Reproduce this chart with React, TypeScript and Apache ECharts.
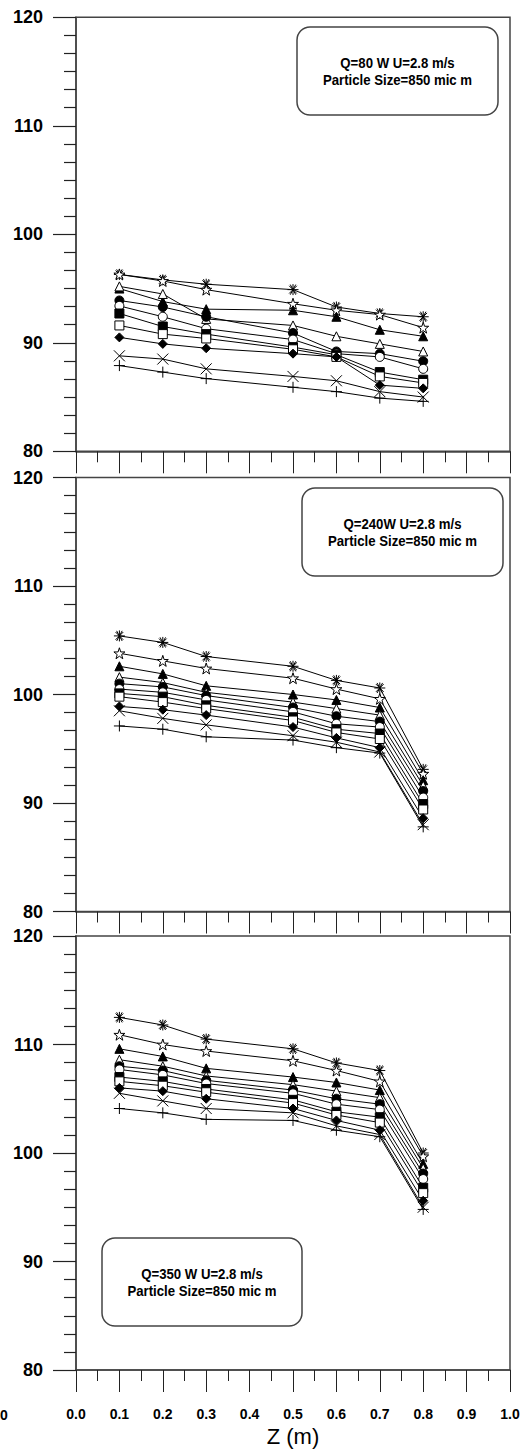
import React, { useEffect, useRef } from "react";
import * as echarts from "echarts";

// Axial positions of the measurement stations (m)
const zPositions = [0.1, 0.2, 0.3, 0.5, 0.6, 0.7, 0.8];
const yMin = 80;
const yMax = 120;
const yStep = 10;

// Q = 80 W
const q80Asterisk = [96.3, 95.8, 95.4, 94.9, 93.3, 92.7, 92.4];
const q80Star = [96.3, 95.7, 94.9, 93.6, 93.0, 92.6, 91.4];
const q80TriFilled = [95.0, 93.8, 93.1, 93.0, 92.4, 91.2, 90.6];
const q80TriOpen = [95.2, 94.5, 92.2, 91.6, 90.6, 89.9, 89.2];
const q80DotFilled = [93.9, 93.3, 92.4, 90.9, 89.2, 89.0, 88.3];
const q80DotOpen = [93.4, 92.4, 91.3, 90.3, 89.0, 88.7, 87.6];
const q80SqFilled = [92.7, 91.5, 90.8, 89.6, 88.9, 87.3, 86.6];
const q80SqOpen = [91.6, 90.8, 90.4, 89.4, 88.7, 86.9, 86.3];
const q80Diamond = [90.5, 89.9, 89.5, 89.0, 88.7, 86.1, 85.8];
const q80Cross = [88.8, 88.5, 87.6, 86.9, 86.5, 85.5, 85.0];
const q80Plus = [87.9, 87.3, 86.7, 85.9, 85.5, 84.9, 84.6];

// Q = 240 W
const q240Asterisk = [105.4, 104.8, 103.5, 102.6, 101.3, 100.6, 93.1];
const q240Star = [103.8, 103.1, 102.4, 101.5, 100.5, 99.6, 92.7];
const q240TriFilled = [102.6, 101.9, 100.8, 100.0, 99.5, 98.8, 92.1];
const q240TriOpen = [101.6, 101.1, 100.2, 99.3, 98.7, 98.1, 91.6];
const q240DotFilled = [101.0, 100.7, 99.9, 98.8, 98.0, 97.5, 91.1];
const q240DotOpen = [100.5, 100.2, 99.5, 98.4, 97.3, 97.0, 90.5];
const q240SqFilled = [100.1, 99.8, 99.0, 97.9, 96.8, 96.4, 89.9];
const q240SqOpen = [99.8, 99.3, 98.7, 97.6, 96.5, 95.9, 89.4];
const q240Diamond = [98.9, 98.6, 98.1, 97.0, 96.0, 95.1, 88.6];
const q240Cross = [98.5, 97.8, 97.2, 96.2, 95.6, 94.7, 88.0];
const q240Plus = [97.1, 96.8, 96.1, 95.8, 95.1, 94.6, 87.8];

// Q = 350 W
const q350Asterisk = [112.5, 111.8, 110.5, 109.6, 108.3, 107.6, 100.0];
const q350Star = [110.9, 110.0, 109.4, 108.5, 107.6, 106.6, 99.7];
const q350TriFilled = [109.6, 108.9, 107.8, 107.0, 106.5, 105.8, 99.0];
const q350TriOpen = [108.6, 108.0, 107.1, 106.3, 105.7, 105.1, 98.6];
const q350DotFilled = [108.0, 107.6, 106.7, 105.8, 105.0, 104.5, 98.1];
const q350DotOpen = [107.7, 107.2, 106.4, 105.5, 104.5, 104.0, 97.6];
const q350SqFilled = [107.0, 106.6, 105.9, 104.9, 103.8, 103.3, 96.8];
const q350SqOpen = [106.6, 106.2, 105.6, 104.6, 103.5, 102.8, 96.3];
const q350Diamond = [106.0, 105.7, 105.0, 104.1, 103.0, 102.1, 95.6];
const q350Cross = [105.5, 104.8, 104.1, 103.7, 102.5, 101.7, 95.0];
const q350Plus = [104.1, 103.7, 103.1, 103.0, 102.1, 101.5, 94.8];

const panelSeries = [
  [q80Asterisk, q80Star, q80TriFilled, q80TriOpen, q80DotFilled, q80DotOpen, q80SqFilled, q80SqOpen, q80Diamond, q80Cross, q80Plus],
  [q240Asterisk, q240Star, q240TriFilled, q240TriOpen, q240DotFilled, q240DotOpen, q240SqFilled, q240SqOpen, q240Diamond, q240Cross, q240Plus],
  [q350Asterisk, q350Star, q350TriFilled, q350TriOpen, q350DotFilled, q350DotOpen, q350SqFilled, q350SqOpen, q350Diamond, q350Cross, q350Plus],
];

const panelTitles = ["Q=80 W U=2.8 m/s", "Q=240W U=2.8 m/s", "Q=350 W U=2.8 m/s"];
const particleLine = "Particle Size=850 mic m";
const xAxisTitle = "Z (m)";

const FONT = "Liberation Sans, Arial, Helvetica, sans-serif";
const INK = "#000";
const FRAME = "#444";

const ASTERISK = "path://M0,5L10,5M5,0L5,10M1.5,1.5L8.5,8.5M1.5,8.5L8.5,1.5M2.5,0.4L7.5,9.6M7.5,0.4L2.5,9.6";
const STAR = "path://M5,0L6.2,3.6L10,3.6L7,5.9L8.1,9.5L5,7.3L1.9,9.5L3,5.9L0,3.6L3.8,3.6Z";
const CROSS = "path://M0,0L10,10M0,10L10,0";
const PLUS = "path://M5,0L5,10M0,5L10,5";

// Marker style of each curve, in the same order as the arrays above
const markers = [
  { symbol: ASTERISK, size: 11, fill: INK, bw: 1 },
  { symbol: STAR, size: 11, fill: "#fff", bw: 1 },
  { symbol: "triangle", size: 9, fill: INK, bw: 1 },
  { symbol: "triangle", size: 9, fill: "#fff", bw: 1 },
  { symbol: "circle", size: 9, fill: INK, bw: 1 },
  { symbol: "circle", size: 9, fill: "#fff", bw: 1 },
  { symbol: "rect", size: 9, fill: INK, bw: 1 },
  { symbol: "rect", size: 9, fill: "#fff", bw: 1 },
  { symbol: "diamond", size: 9, fill: INK, bw: 1 },
  { symbol: CROSS, size: 11, fill: INK, bw: 1 },
  { symbol: PLUS, size: 11, fill: INK, bw: 1 },
];

// Plot frames (px)
const plotLeft = 76;
const plotWidth = 434;
const plotHeight = 434;
const panelTops = [17.3, 477.5, 936];

// Annotation boxes
const boxes = [
  { x: 297, y: 27, w: 201, h: 88 },
  { x: 302, y: 488, w: 201, h: 88 },
  { x: 102, y: 1238, w: 200, h: 88 },
];

export default function App() {
  const ref = useRef<HTMLDivElement>(null);

  useEffect(() => {
    if (!ref.current) return;
    const chart = echarts.init(ref.current, undefined, { renderer: "svg" });

    const grid = panelTops.map((top) => ({
      left: plotLeft,
      top,
      width: plotWidth,
      height: plotHeight,
      show: true,
      borderColor: FRAME,
      borderWidth: 1.5,
      backgroundColor: "transparent",
    }));

    const xAxis = panelTops.map((_, i) => ({
      type: "value",
      gridIndex: i,
      min: 0,
      max: 1,
      interval: 0.1,
      axisLine: { show: true, onZero: false, lineStyle: { color: FRAME, width: 1.5 } },
      axisTick: { show: true, length: 22, lineStyle: { color: "#222", width: 1 } },
      minorTick: { show: true, splitNumber: 2, length: 11, lineStyle: { color: "#222", width: 1 } },
      splitLine: { show: false },
      axisLabel: {
        show: i === panelTops.length - 1,
        margin: 37,
        fontSize: 14,
        fontWeight: "bold",
        fontFamily: FONT,
        color: INK,
        formatter: (v: number) => v.toFixed(1),
      },
    }));

    const yAxis = panelTops.map((_, i) => ({
      type: "value",
      gridIndex: i,
      min: yMin,
      max: yMax,
      interval: yStep,
      axisLine: { show: true, onZero: false, lineStyle: { color: FRAME, width: 1.5 } },
      axisTick: { show: true, length: 23, lineStyle: { color: "#222", width: 1.2 } },
      minorTick: { show: true, splitNumber: 6, length: 12, lineStyle: { color: "#222", width: 1.2 } },
      splitLine: { show: false },
      axisLabel: {
        show: true,
        margin: 33,
        fontSize: 18,
        fontWeight: "bold",
        fontFamily: FONT,
        color: INK,
      },
    }));

    const series: any[] = [];
    panelSeries.forEach((curves, p) => {
      curves.forEach((vals, k) => {
        const m = markers[k];
        series.push({
          type: "line",
          xAxisIndex: p,
          yAxisIndex: p,
          data: zPositions.map((z, j) => [z, vals[j]]),
          symbol: m.symbol,
          symbolSize: m.size,
          showSymbol: true,
          silent: true,
          lineStyle: { color: INK, width: 1 },
          itemStyle: { color: m.fill, borderColor: INK, borderWidth: m.bw, opacity: 1 },
          emphasis: { disabled: true },
        });
      });
    });

    const graphic: any[] = [];
    boxes.forEach((b, i) => {
      graphic.push({
        type: "rect",
        shape: { x: b.x, y: b.y, width: b.w, height: b.h, r: 13 },
        style: { fill: "#fff", stroke: FRAME, lineWidth: 1.5 },
        z: 100,
      });
      const cx = b.x + b.w / 2;
      const cy = b.y + b.h / 2;
      [panelTitles[i], particleLine].forEach((t, k) => {
        graphic.push({
          type: "text",
          x: cx,
          y: cy + (k === 0 ? -8.5 : 9),
          scaleX: 0.88,
          z: 101,
          style: {
            text: t,
            fill: INK,
            font: `bold 15px ${FONT}`,
            textAlign: "center",
            textVerticalAlign: "middle",
          },
        });
      });
    });

    graphic.push({
      type: "text",
      x: plotLeft + plotWidth / 2,
      y: 1436,
      style: {
        text: xAxisTitle,
        fill: INK,
        font: `22px ${FONT}`,
        textAlign: "center",
        textVerticalAlign: "middle",
      },
    });
    graphic.push({
      type: "text",
      x: 0,
      y: 1415,
      style: {
        text: "0",
        fill: INK,
        font: `bold 14px ${FONT}`,
        textAlign: "left",
        textVerticalAlign: "middle",
      },
    });

    chart.setOption({
      animation: false,
      backgroundColor: "#fff",
      grid,
      xAxis,
      yAxis,
      series,
      graphic,
    });

    return () => chart.dispose();
  }, []);

  return (
    <div
      ref={ref}
      style={{ position: "fixed", left: 0, top: 0, width: 530, height: 1455, background: "#fff" }}
    />
  );
}
